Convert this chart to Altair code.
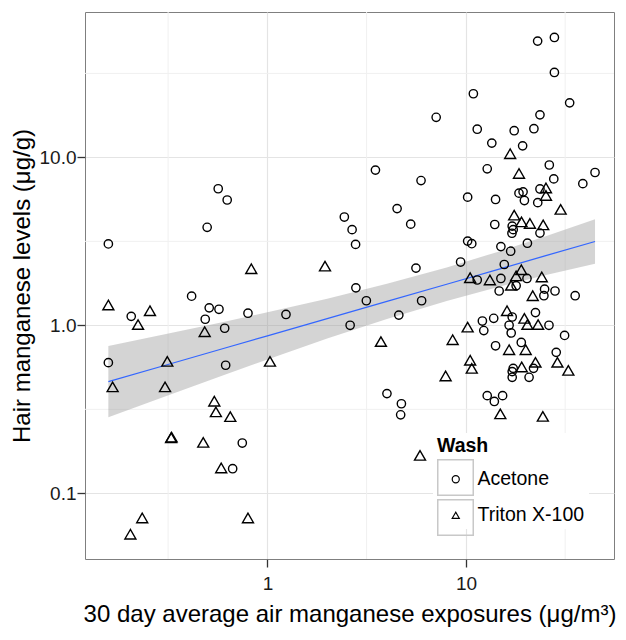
import altair as alt
import pandas as pd

# ---- data ----
acetone_x = [0.158, 0.565, 0.627, 0.497, 2.44, 2.67, 2.78, 2.79, 22.97, 27.9,
             27.9, 10.9, 33.3, 7.08, 23.6, 11.4, 17.5, 22.0, 13.5, 19.3,
             3.50, 5.94, 12.8, 26.3, 27.7, 38.8, 44.7, 10.2, 14.1, 18.5,
             19.4, 19.7, 23.0, 23.6, 4.50, 5.27, 13.97, 17.1, 17.3, 17.05,
             23.6, 10.2, 10.7, 15.0, 16.8, 20.4, 9.40, 15.6, 5.60, 11.4,
             15.0, 20.3, 17.9, 0.415, 0.206, 0.509, 0.570, 0.486, 0.609, 0.798,
             1.24, 2.61, 0.158, 0.616, 0.747, 0.668, 14.7, 24.9, 28.1, 24.7,
             35.5, 3.15, 5.98, 4.59, 22.4, 12.1, 13.8, 17.1, 16.5, 26.2,
             12.3, 16.9, 31.4, 19.0, 14.1, 28.5, 17.3, 17.1, 17.1, 21.9,
             20.8, 4.00, 4.73, 4.69, 12.8, 13.9, 15.3]
acetone_y = [3.05, 6.50, 5.57, 3.83, 4.41, 3.71, 3.03, 1.67, 49.2, 51.7,
             32.0, 23.9, 21.1, 17.3, 17.9, 14.7, 14.4, 14.8, 12.15, 11.7,
             8.39, 7.27, 8.54, 9.0, 7.44, 6.97, 8.12, 5.79, 5.61, 6.12,
             6.23, 5.53, 5.37, 6.48, 4.95, 4.00, 3.98, 3.89, 3.71, 3.53,
             3.54, 3.17, 3.06, 2.94, 2.76, 3.08, 2.38, 2.30, 2.19, 1.86,
             1.90, 1.90, 1.72, 1.49, 1.13, 1.27, 1.245, 1.086, 0.96, 1.18,
             1.16, 1.0, 0.599, 0.578, 0.199, 0.140, 1.60, 1.64, 1.60, 1.50,
             1.50, 1.40, 1.40, 1.15, 1.19, 1.06, 1.10, 1.12, 1.0, 1.0,
             0.93, 0.90, 0.87, 0.79, 0.755, 0.69, 0.554, 0.53, 0.49, 0.554,
             0.49, 0.392, 0.341, 0.293, 0.381, 0.352, 0.381]

triton_x = [0.829, 1.95, 16.7, 18.5, 25.3, 25.3, 30.0, 17.5, 19.05, 21.0,
            24.5, 10.5, 13.2, 19.0, 17.9, 24.1, 0.158, 0.256, 0.223, 0.483,
            0.313, 1.03, 0.166, 0.305, 0.540, 0.550, 0.650, 0.327, 0.329, 0.475,
            0.585, 0.234, 0.204, 0.798, 16.9, 21.7, 16.1, 19.7, 20.4, 23.1,
            10.2, 3.73, 8.57, 16.5, 20.0, 10.5, 10.7, 19.1, 22.4, 28.9,
            32.8, 7.90, 14.9, 24.4, 5.87]
triton_y = [2.17, 2.25, 10.5, 8.01, 6.57, 5.93, 4.90, 4.53, 4.13, 4.04,
            3.96, 1.92, 1.86, 2.14, 1.97, 1.94, 1.32, 1.22, 1.01, 0.916,
            0.61, 0.61, 0.43, 0.43, 0.353, 0.305, 0.286, 0.214, 0.216, 0.201,
            0.1415, 0.0713, 0.057, 0.0713, 1.73, 1.50, 1.22, 1.10, 1.01, 1.01,
            0.975, 0.80, 0.82, 0.715, 0.715, 0.619, 0.554, 0.565, 0.602, 0.602,
            0.539, 0.499, 0.297, 0.287, 0.168]

# fitted line and its confidence band
fit_x = [0.158, 0.3, 0.6, 1.0, 2.0, 4.0, 8.0, 15.0, 25.0, 44.7]
fit_y = [0.462, 0.574, 0.727, 0.865, 1.095, 1.387, 1.756, 2.175, 2.588, 3.155]
fit_lo = [0.283, 0.374, 0.504, 0.626, 0.833, 1.090, 1.395, 1.706, 1.983, 2.326]
fit_hi = [0.754, 0.882, 1.047, 1.195, 1.440, 1.764, 2.21, 2.773, 3.38, 4.276]

minor_x = [0.316, 3.16, 31.6]
minor_y = [0.316, 3.16, 31.6]
major_x_ticks = [1, 10]
major_y_ticks = [0.1, 1, 10]
wash_levels = ["Acetone", "Triton X-100"]
box_levels = ["Acetone ", "Triton X-100 "]

# ---- tables ----
pts = pd.DataFrame({
    "x": acetone_x + triton_x,
    "y": acetone_y + triton_y,
    "wash": [wash_levels[0]] * len(acetone_x) + [wash_levels[1]] * len(triton_x),
    "box": [box_levels[0]] * len(acetone_x) + [box_levels[1]] * len(triton_x),
})
fit = pd.DataFrame({"x": fit_x, "y": fit_y, "lo": fit_lo, "hi": fit_hi})
gx = pd.DataFrame({"x": minor_x})
gy = pd.DataFrame({"y": minor_y})

FONT = "Liberation Sans"
XT = "30 day average air manganese exposures (\u03bcg/m\u00b3)"
YT = "Hair manganese levels (\u03bcg/g)"

xscale = alt.Scale(type="log", domain=[0.1205, 55.7], nice=False)
yscale = alt.Scale(type="log", domain=[0.0406, 73.3], nice=False)

x_axis = alt.Axis(values=major_x_ticks, format="~g", title=XT, grid=True,
                  gridColor="#e4e4e4", gridWidth=1.2, domain=False,
                  tickColor="#333333", tickSize=8, tickWidth=1.3,
                  labelFontSize=19, labelColor="#1a1a1a", labelPadding=7,
                  labelFont=FONT, titleFont=FONT, titleFontSize=24,
                  titleFontWeight="normal", titleColor="black", titlePadding=9)
y_axis = alt.Axis(values=major_y_ticks, format=".1f", title=YT, grid=True,
                  gridColor="#e4e4e4", gridWidth=1.2, domain=False,
                  tickColor="#333333", tickSize=8, tickWidth=1.3,
                  labelFontSize=19, labelColor="#1a1a1a", labelPadding=1,
                  labelFont=FONT, titleFont=FONT, titleFontSize=24,
                  titleFontWeight="normal", titleColor="black", titlePadding=5)

X = alt.X("x:Q", scale=xscale, axis=x_axis, title=XT)
Y = alt.Y("y:Q", scale=yscale, axis=y_axis, title=YT)

minor_v = alt.Chart(gx).mark_rule(color="#f0f0f0", strokeWidth=1).encode(x=X)
minor_h = alt.Chart(gy).mark_rule(color="#f0f0f0", strokeWidth=1).encode(y=Y)

band = alt.Chart(fit).mark_area(color="#999999", opacity=0.42).encode(
    x=X, y=alt.Y("lo:Q", scale=yscale, axis=y_axis, title=YT), y2="hi:Q")

line = alt.Chart(fit).mark_line(color="#3366FF", strokeWidth=1.2).encode(x=X, y=Y)

shape_legend = alt.Legend(
    title="Wash", orient="none", legendX=348, legendY=421, padding=4,
    fillColor="white",
    titleFont=FONT, titleFontSize=19.5, titleFontWeight="bold", titleColor="black",
    titlePadding=13, labelFont=FONT, labelFontSize=19.5, labelColor="black",
    symbolSize=50, symbolOffset=9, labelOffset=12, rowPadding=15, zindex=2,
    symbolStrokeWidth=1.2, symbolStrokeColor="black", symbolFillColor="transparent")

box_legend = alt.Legend(
    title=None, orient="none", legendX=352, legendY=447, padding=0,
    labelExpr="''", labelFontSize=1,
    symbolType="square", symbolSize=1260, symbolOffset=0, labelOffset=0,
    rowPadding=-5, zindex=3, symbolStrokeWidth=1.5, symbolStrokeColor="#c8c8c8")

SHAPE = alt.Shape("wash:N", scale=alt.Scale(domain=wash_levels, range=["circle", "triangle-up"]),
                  legend=shape_legend)

pts_a = alt.Chart(pts).transform_filter(alt.datum.wash == wash_levels[0]).mark_point(
    filled=False, strokeWidth=1.4, opacity=1, color="black", size=69
).encode(x=X, y=Y, shape=SHAPE)

pts_t = alt.Chart(pts).transform_filter(alt.datum.wash == wash_levels[1]).mark_point(
    filled=False, strokeWidth=1.4, opacity=1, color="black", size=121
).encode(x=X, y=Y, shape=SHAPE)

# empty layer that only supplies the boxed legend keys
boxes = alt.Chart(pts).transform_filter("false").mark_point(
    shape="square", filled=True, stroke="#c8c8c8", strokeWidth=1.5, opacity=1
).encode(
    x=X, y=Y,
    fill=alt.Fill("box:N", scale=alt.Scale(domain=box_levels, range=["transparent", "transparent"]),
                  legend=box_legend),
)

chart = alt.layer(minor_v, minor_h, band, line, boxes, pts_a, pts_t).properties(
    width=529, height=547,
    padding={"left": 77, "top": 4, "right": 4, "bottom": 72},
    autosize=alt.AutoSizeParams(type="none"),
    background="white",
).configure_view(stroke="#7f7f7f", strokeWidth=1)

chart.save("out.html", embed_options={"renderer": "svg", "actions": False})
